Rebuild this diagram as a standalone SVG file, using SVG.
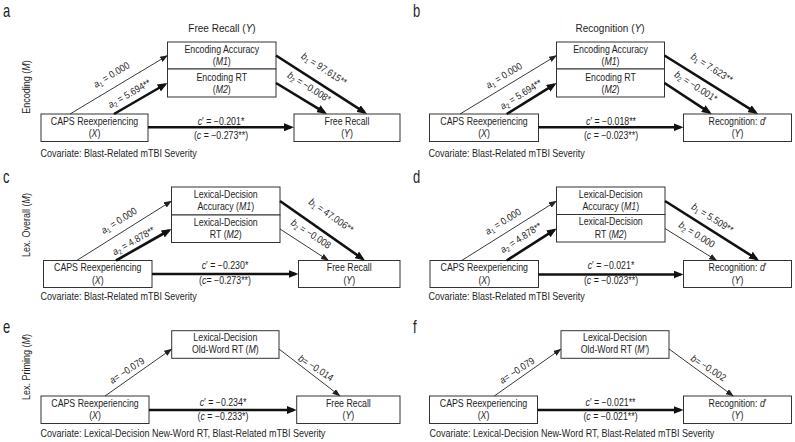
<svg xmlns="http://www.w3.org/2000/svg" width="795" height="442" viewBox="0 0 795 442">
<defs>
<style>
text{font-family:"Liberation Sans",Arial,sans-serif;fill:#1e1e1e}
.pl{font-size:18px}
.ti{font-size:10.8px;text-anchor:middle}
.t{font-size:10px;text-anchor:middle}
.l{font-size:10px;text-anchor:start}
.i{font-style:italic}
.sub{font-size:6.8px}
.box{fill:#fff;stroke:#333;stroke-width:1}
.thin{stroke:#222;stroke-width:0.9;fill:none;marker-end:url(#ah)}
.thick{stroke:#111;stroke-width:2.6;fill:none;marker-end:url(#ahk)}
</style>
<marker id="ah" viewBox="0 0 8 6" markerWidth="8" markerHeight="6" refX="7.5" refY="3" orient="auto" markerUnits="userSpaceOnUse"><path d="M0,0L8,3L0,6z" fill="#222"/></marker>
<marker id="ahk" viewBox="0 0 10 8" markerWidth="10" markerHeight="8" refX="7" refY="4" orient="auto" markerUnits="userSpaceOnUse"><path d="M0,0L10,4L0,8z" fill="#111"/></marker>
</defs>
<rect x="0" y="0" width="795" height="442" fill="#fff"/>

<!-- Panel a -->
<g id="panel-a">
<text class="pl" transform="translate(3 16.5) scale(.72 1)">a</text>
<text class="ti" transform="translate(222 31.5) scale(.93 1)">Free Recall (<tspan class="i">Y</tspan>)</text>
<text class="t" transform="translate(29.5 87) rotate(-90) scale(.9 1)">Encoding (<tspan class="i">M</tspan>)</text>
<g id="a-X"><rect class="box" x="41" y="114" width="107" height="27.5"/>
<text class="t" transform="translate(94.5 124.5) scale(.88 1)">CAPS Reexperiencing</text>
<text class="t" transform="translate(94.5 137) scale(.88 1)">(<tspan class="i">X</tspan>)</text></g>
<g id="a-M1"><rect class="box" x="167.5" y="42" width="108.5" height="27"/>
<text class="t" transform="translate(221.75 52.5) scale(.88 1)">Encoding Accuracy</text>
<text class="t" transform="translate(221.75 64.5) scale(.88 1)">(<tspan class="i">M1</tspan>)</text></g>
<g id="a-M2"><rect class="box" x="167.5" y="69" width="108.5" height="28"/>
<text class="t" transform="translate(221.75 80.5) scale(.88 1)">Encoding RT</text>
<text class="t" transform="translate(221.75 92.5) scale(.88 1)">(<tspan class="i">M2</tspan>)</text></g>
<g id="a-Y"><rect class="box" x="294" y="114" width="106" height="27.5"/>
<text class="t" transform="translate(347 124.5) scale(.88 1)">Free Recall</text>
<text class="t" transform="translate(347 137) scale(.88 1)">(<tspan class="i">Y</tspan>)</text></g>
<g id="a-connectors">
<line class="thin" x1="70" y1="114" x2="167.5" y2="55.5"/>
<line class="thick" x1="114" y1="114" x2="164.9" y2="84.5"/>
<line class="thick" x1="276" y1="55.5" x2="364.5" y2="112.4"/>
<line class="thick" x1="276" y1="83" x2="324.4" y2="112.4"/>
<line class="thick" x1="148" y1="127.3" x2="291" y2="127.3"/>
<text class="t" transform="translate(113.2 77.6) rotate(-31) scale(.88 1)"><tspan class="i">a</tspan><tspan class="sub" dy="2">1</tspan><tspan dy="-2"> = 0.000</tspan></text>
<text class="t" transform="translate(131 96.5) rotate(-30) scale(.88 1)"><tspan class="i">a</tspan><tspan class="sub" dy="2">2</tspan><tspan dy="-2"> = 5.694**</tspan></text>
<text class="t" transform="translate(322.4 71.8) rotate(33) scale(.88 1)"><tspan class="i">b</tspan><tspan class="sub" dy="2">1</tspan><tspan dy="-2"> = 97.615**</tspan></text>
<text class="t" transform="translate(307.4 90) rotate(32) scale(.88 1)"><tspan class="i">b</tspan><tspan class="sub" dy="2">2</tspan><tspan dy="-2"> = −0.008*</tspan></text>
<text class="t" transform="translate(221 124.5) scale(.88 1)"><tspan class="i">c</tspan>′ = −0.201*</text>
<text class="t" transform="translate(221 138.5) scale(.88 1)">(<tspan class="i">c</tspan> = −0.273**)</text>
</g>
<text class="l" transform="translate(40.5 156.5) scale(.9 1)">Covariate: Blast-Related mTBI Severity</text>
</g>

<!-- Panel b -->
<g id="panel-b">
<text class="pl" transform="translate(413 16.5) scale(.72 1)">b</text>
<text class="ti" transform="translate(610 31.5) scale(.93 1)">Recognition (<tspan class="i">Y</tspan>)</text>
<g id="b-X"><rect class="box" x="429.5" y="114" width="109" height="27.5"/>
<text class="t" transform="translate(484 124.5) scale(.88 1)">CAPS Reexperiencing</text>
<text class="t" transform="translate(484 137) scale(.88 1)">(<tspan class="i">X</tspan>)</text></g>
<g id="b-M1"><rect class="box" x="556.5" y="42" width="108" height="27"/>
<text class="t" transform="translate(610.5 52.5) scale(.88 1)">Encoding Accuracy</text>
<text class="t" transform="translate(610.5 64.5) scale(.88 1)">(<tspan class="i">M1</tspan>)</text></g>
<g id="b-M2"><rect class="box" x="556.5" y="69" width="108" height="28"/>
<text class="t" transform="translate(610.5 80.5) scale(.88 1)">Encoding RT</text>
<text class="t" transform="translate(610.5 92.5) scale(.88 1)">(<tspan class="i">M2</tspan>)</text></g>
<g id="b-Y"><rect class="box" x="683.5" y="114" width="108" height="27.5"/>
<text class="t" transform="translate(737.5 124.5) scale(.88 1)">Recognition: <tspan class="i">d</tspan>′</text>
<text class="t" transform="translate(737.5 137) scale(.88 1)">(<tspan class="i">Y</tspan>)</text></g>
<g id="b-connectors">
<line class="thin" x1="460" y1="114" x2="556.5" y2="55.5"/>
<line class="thick" x1="506.7" y1="114" x2="554.1" y2="84.6"/>
<line class="thick" x1="664.5" y1="55.5" x2="755.5" y2="112.4"/>
<line class="thick" x1="664.5" y1="83" x2="709.2" y2="112.4"/>
<line class="thick" x1="538.5" y1="127.3" x2="680.5" y2="127.3"/>
<text class="t" transform="translate(505.7 78.4) rotate(-31) scale(.88 1)"><tspan class="i">a</tspan><tspan class="sub" dy="2">1</tspan><tspan dy="-2"> = 0.000</tspan></text>
<text class="t" transform="translate(522.7 97.2) rotate(-32) scale(.88 1)"><tspan class="i">a</tspan><tspan class="sub" dy="2">2</tspan><tspan dy="-2"> = 5.694**</tspan></text>
<text class="t" transform="translate(710.1 70.8) rotate(32) scale(.88 1)"><tspan class="i">b</tspan><tspan class="sub" dy="2">1</tspan><tspan dy="-2"> = 7.623**</tspan></text>
<text class="t" transform="translate(694.2 89.2) rotate(33) scale(.88 1)"><tspan class="i">b</tspan><tspan class="sub" dy="2">2</tspan><tspan dy="-2"> = −0.001*</tspan></text>
<text class="t" transform="translate(611 124.5) scale(.88 1)"><tspan class="i">c</tspan>′ = −0.018**</text>
<text class="t" transform="translate(611 138.5) scale(.88 1)">(<tspan class="i">c</tspan> = −0.023**)</text>
</g>
<text class="l" transform="translate(428.5 156.5) scale(.9 1)">Covariate: Blast-Related mTBI Severity</text>
</g>

<!-- Panel c -->
<g id="panel-c">
<text class="pl" transform="translate(3 183) scale(.72 1)">c</text>
<text class="t" transform="translate(29.5 225) rotate(-90) scale(.9 1)">Lex. Overall (<tspan class="i">M</tspan>)</text>
<g id="c-X"><rect class="box" x="43.5" y="260.5" width="108.5" height="27"/>
<text class="t" transform="translate(97.75 271) scale(.88 1)">CAPS Reexperiencing</text>
<text class="t" transform="translate(97.75 283.5) scale(.88 1)">(<tspan class="i">X</tspan>)</text></g>
<g id="c-M1"><rect class="box" x="171.5" y="187" width="108.5" height="28"/>
<text class="t" transform="translate(225.75 197.5) scale(.88 1)">Lexical-Decision</text>
<text class="t" transform="translate(225.75 210) scale(.88 1)">Accuracy (<tspan class="i">M1</tspan>)</text></g>
<g id="c-M2"><rect class="box" x="171.5" y="215" width="108.5" height="27.5"/>
<text class="t" transform="translate(225.75 225.5) scale(.88 1)">Lexical-Decision</text>
<text class="t" transform="translate(225.75 238) scale(.88 1)">RT (<tspan class="i">M2</tspan>)</text></g>
<g id="c-Y"><rect class="box" x="298.5" y="260.5" width="101.5" height="27"/>
<text class="t" transform="translate(349.25 271) scale(.88 1)">Free Recall</text>
<text class="t" transform="translate(349.25 283.5) scale(.88 1)">(<tspan class="i">Y</tspan>)</text></g>
<g id="c-connectors">
<line class="thin" x1="76.7" y1="260.5" x2="171.5" y2="201"/>
<line class="thick" x1="116" y1="260.5" x2="168.9" y2="230.5"/>
<line class="thick" x1="280" y1="201" x2="362.5" y2="258.8"/>
<line class="thin" x1="280" y1="229" x2="328.5" y2="260.5"/>
<line class="thick" x1="152" y1="274" x2="295.5" y2="274"/>
<text class="t" transform="translate(120.7 223.4) rotate(-32) scale(.88 1)"><tspan class="i">a</tspan><tspan class="sub" dy="2">1</tspan><tspan dy="-2"> = 0.000</tspan></text>
<text class="t" transform="translate(135.2 243.8) rotate(-30) scale(.88 1)"><tspan class="i">a</tspan><tspan class="sub" dy="2">2</tspan><tspan dy="-2"> = 4.878**</tspan></text>
<text class="t" transform="translate(329.2 218.3) rotate(35) scale(.88 1)"><tspan class="i">b</tspan><tspan class="sub" dy="2">1</tspan><tspan dy="-2"> = 47.006**</tspan></text>
<text class="t" transform="translate(309.2 236.7) rotate(33) scale(.88 1)"><tspan class="i">b</tspan><tspan class="sub" dy="2">2</tspan><tspan dy="-2"> = −0.008</tspan></text>
<text class="t" transform="translate(225 268.5) scale(.88 1)"><tspan class="i">c</tspan>′ = −0.230*</text>
<text class="t" transform="translate(225 283.5) scale(.88 1)">(<tspan class="i">c</tspan>= −0.273**)</text>
</g>
<text class="l" transform="translate(40.5 300) scale(.9 1)">Covariate: Blast-Related mTBI Severity</text>
</g>

<!-- Panel d -->
<g id="panel-d">
<text class="pl" transform="translate(413 183) scale(.72 1)">d</text>
<g id="d-X"><rect class="box" x="430" y="260.5" width="108.5" height="27"/>
<text class="t" transform="translate(484.25 271) scale(.88 1)">CAPS Reexperiencing</text>
<text class="t" transform="translate(484.25 283.5) scale(.88 1)">(<tspan class="i">X</tspan>)</text></g>
<g id="d-M1"><rect class="box" x="556.5" y="187" width="108.5" height="27.5"/>
<text class="t" transform="translate(610.75 197.5) scale(.88 1)">Lexical-Decision</text>
<text class="t" transform="translate(610.75 210) scale(.88 1)">Accuracy (<tspan class="i">M1</tspan>)</text></g>
<g id="d-M2"><rect class="box" x="556.5" y="214.5" width="108.5" height="27.5"/>
<text class="t" transform="translate(610.75 225) scale(.88 1)">Lexical-Decision</text>
<text class="t" transform="translate(610.75 237.5) scale(.88 1)">RT (<tspan class="i">M2</tspan>)</text></g>
<g id="d-Y"><rect class="box" x="683.5" y="260.5" width="108" height="27"/>
<text class="t" transform="translate(737.5 271) scale(.88 1)">Recognition: <tspan class="i">d</tspan>′</text>
<text class="t" transform="translate(737.5 283.5) scale(.88 1)">(<tspan class="i">Y</tspan>)</text></g>
<g id="d-connectors">
<line class="thin" x1="461.7" y1="260.5" x2="556.5" y2="201"/>
<line class="thick" x1="506.7" y1="260.5" x2="554.2" y2="230.1"/>
<line class="thick" x1="665" y1="201" x2="756.5" y2="258.9"/>
<line class="thin" x1="665" y1="228.5" x2="716.7" y2="260.5"/>
<line class="thick" x1="538.5" y1="274.5" x2="680.5" y2="274.5"/>
<text class="t" transform="translate(504.8 224.3) rotate(-32) scale(.88 1)"><tspan class="i">a</tspan><tspan class="sub" dy="2">1</tspan><tspan dy="-2"> = 0.000</tspan></text>
<text class="t" transform="translate(522.7 240.5) rotate(-33) scale(.88 1)"><tspan class="i">a</tspan><tspan class="sub" dy="2">2</tspan><tspan dy="-2"> = 4.878**</tspan></text>
<text class="t" transform="translate(710.7 221) rotate(32) scale(.88 1)"><tspan class="i">b</tspan><tspan class="sub" dy="2">1</tspan><tspan dy="-2"> = 5.509**</tspan></text>
<text class="t" transform="translate(695.1 237.5) rotate(32) scale(.88 1)"><tspan class="i">b</tspan><tspan class="sub" dy="2">2</tspan><tspan dy="-2"> = 0.000</tspan></text>
<text class="t" transform="translate(611 268.5) scale(.88 1)"><tspan class="i">c</tspan>′ = −0.021*</text>
<text class="t" transform="translate(611 283.5) scale(.88 1)">(<tspan class="i">c</tspan> = −0.023**)</text>
</g>
<text class="l" transform="translate(428.5 300) scale(.9 1)">Covariate: Blast-Related mTBI Severity</text>
</g>

<!-- Panel e -->
<g id="panel-e">
<text class="pl" transform="translate(3 333) scale(.72 1)">e</text>
<text class="t" transform="translate(29.5 367) rotate(-90) scale(.9 1)">Lex. Priming (<tspan class="i">M</tspan>)</text>
<g id="e-M"><rect class="box" x="171.7" y="330.7" width="107.3" height="27.6"/>
<text class="t" transform="translate(225.35 340.5) scale(.88 1)">Lexical-Decision</text>
<text class="t" transform="translate(225.35 352.5) scale(.88 1)">Old-Word RT (<tspan class="i">M</tspan>)</text></g>
<g id="e-X"><rect class="box" x="41" y="396" width="108" height="27.5"/>
<text class="t" transform="translate(95 406.5) scale(.88 1)">CAPS Reexperiencing</text>
<text class="t" transform="translate(95 419) scale(.88 1)">(<tspan class="i">X</tspan>)</text></g>
<g id="e-Y"><rect class="box" x="296.7" y="396" width="103.3" height="27.5"/>
<text class="t" transform="translate(348.35 406.5) scale(.88 1)">Free Recall</text>
<text class="t" transform="translate(348.35 419) scale(.88 1)">(<tspan class="i">Y</tspan>)</text></g>
<g id="e-connectors">
<line class="thin" x1="105" y1="396" x2="171.7" y2="349"/>
<line class="thin" x1="279" y1="349" x2="340" y2="396"/>
<line class="thick" x1="149" y1="410" x2="293.7" y2="410"/>
<text class="t" transform="translate(128.8 373.3) rotate(-33) scale(.88 1)"><tspan class="i">a</tspan>= −0.079</text>
<text class="t" transform="translate(314.1 370.8) rotate(33) scale(.88 1)"><tspan class="i">b</tspan>= −0.014</text>
<text class="t" transform="translate(223 406) scale(.88 1)"><tspan class="i">c</tspan>′ = −0.234*</text>
<text class="t" transform="translate(223 419.5) scale(.88 1)">(<tspan class="i">c</tspan> = −0.233*)</text>
</g>
<text class="l" transform="translate(40.5 436.5) scale(.9 1)">Covariate: Lexical-Decision New-Word RT, Blast-Related mTBI Severity</text>
</g>

<!-- Panel f -->
<g id="panel-f">
<text class="pl" transform="translate(413 333) scale(.72 1)">f</text>
<g id="f-M"><rect class="box" x="561" y="330.7" width="108" height="27.6"/>
<text class="t" transform="translate(615 340.5) scale(.88 1)">Lexical-Decision</text>
<text class="t" transform="translate(615 352.5) scale(.88 1)">Old-Word RT (<tspan class="i">M′</tspan>)</text></g>
<g id="f-X"><rect class="box" x="429.5" y="396" width="108" height="27.5"/>
<text class="t" transform="translate(483.5 406.5) scale(.88 1)">CAPS Reexperiencing</text>
<text class="t" transform="translate(483.5 419) scale(.88 1)">(<tspan class="i">X</tspan>)</text></g>
<g id="f-Y"><rect class="box" x="683.5" y="396" width="108" height="27.5"/>
<text class="t" transform="translate(737.5 406.5) scale(.88 1)">Recognition: <tspan class="i">d</tspan>′</text>
<text class="t" transform="translate(737.5 419) scale(.88 1)">(<tspan class="i">Y</tspan>)</text></g>
<g id="f-connectors">
<line class="thin" x1="494.3" y1="396" x2="561" y2="349"/>
<line class="thin" x1="669" y1="349" x2="733.3" y2="396"/>
<line class="thick" x1="537.5" y1="410" x2="680.5" y2="410"/>
<text class="t" transform="translate(518.8 373.3) rotate(-33) scale(.88 1)"><tspan class="i">a</tspan>= −0.079</text>
<text class="t" transform="translate(706.7 370.8) rotate(33) scale(.88 1)"><tspan class="i">b</tspan>= −0.002</text>
<text class="t" transform="translate(610.5 406) scale(.88 1)"><tspan class="i">c</tspan>′ = −0.021**</text>
<text class="t" transform="translate(610.5 419.5) scale(.88 1)">(<tspan class="i">c</tspan> = −0.021**)</text>
</g>
<text class="l" transform="translate(429.5 436.5) scale(.9 1)">Covariate: Lexical-Decision New-Word RT, Blast-Related mTBI Severity</text>
</g>
</svg>
